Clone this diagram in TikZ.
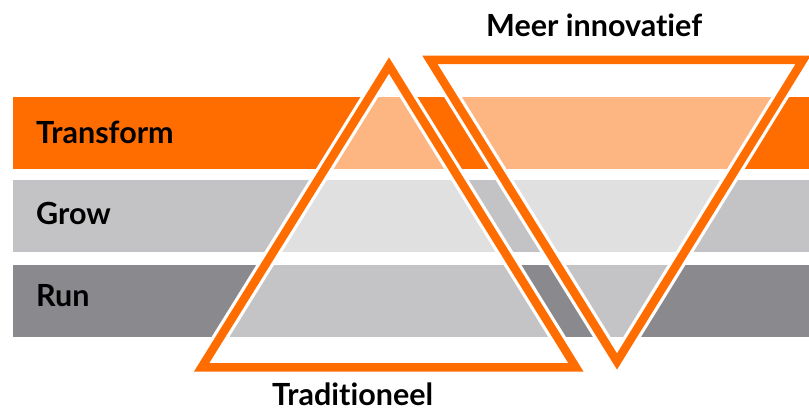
\documentclass[tikz,border=0pt]{standalone}
\usepackage{fontspec}
\setmainfont{Lato}[Ligatures=NoCommon]
\usetikzlibrary{positioning}
\definecolor{brand}{RGB}{255,108,0}
\definecolor{brandLight}{RGB}{253,181,129}
\definecolor{growGray}{RGB}{195,194,197}
\definecolor{growLight}{RGB}{224,224,224}
\definecolor{runGray}{RGB}{138,137,142}
\definecolor{runLight}{RGB}{196,196,198}

\begin{document}
\begin{tikzpicture}[x=1pt, y=-1pt,
  lbl/.style={font=\fontsize{30.5}{36}\selectfont\bfseries, text=black, inner sep=0pt, anchor=base west},
  halo/.style={draw=white, line width=15pt, line join=miter},
  edge/.style={draw=brand, line width=8.5pt, line join=miter}]
  \useasboundingbox (0,0) rectangle (809,411);
  \clip (0,0) rectangle (809,411);

  % the three layers
  \fill[brand]    (13,97)  rectangle (809,169);
  \fill[growGray] (13,180) rectangle (809,252);
  \fill[runGray]  (13,265) rectangle (809,337);

  % triangle corners
  \coordinate (upTop)   at (389,65.5);
  \coordinate (upLeft)  at (201.5,367.5);
  \coordinate (upRight) at (576,367.5);
  \coordinate (dnLeft)  at (430,60);
  \coordinate (dnRight) at (803,60);
  \coordinate (dnTip)   at (617,361.5);

  % lighter layers inside both triangles
  \foreach \a/\b/\c in {upTop/upLeft/upRight, dnLeft/dnRight/dnTip}{
    \begin{scope}
      \clip (\a) -- (\b) -- (\c) -- cycle;
      \fill[brandLight] (13,97)  rectangle (809,169);
      \fill[growLight]  (13,180) rectangle (809,252);
      \fill[runLight]   (13,265) rectangle (809,337);
    \end{scope}
  }

  % outlines with a white gap on each side
  \foreach \a/\b/\c in {upTop/upLeft/upRight, dnLeft/dnRight/dnTip}{
    \draw[halo] (\a) -- (\b) -- (\c) -- cycle;
    \draw[edge] (\a) -- (\b) -- (\c) -- cycle;
  }

  % labels
  \node[lbl] (transform) at (36,144) {Transform};
  \node[lbl] (grow)      at (36,225) {Grow};
  \node[lbl] (run)       at (36,307) {Run};
  \node[lbl] (innov)     at (486,37) {Meer innovatief};
  \node[lbl] (trad)      at (272,406) {Traditioneel};
\end{tikzpicture}
\end{document}
